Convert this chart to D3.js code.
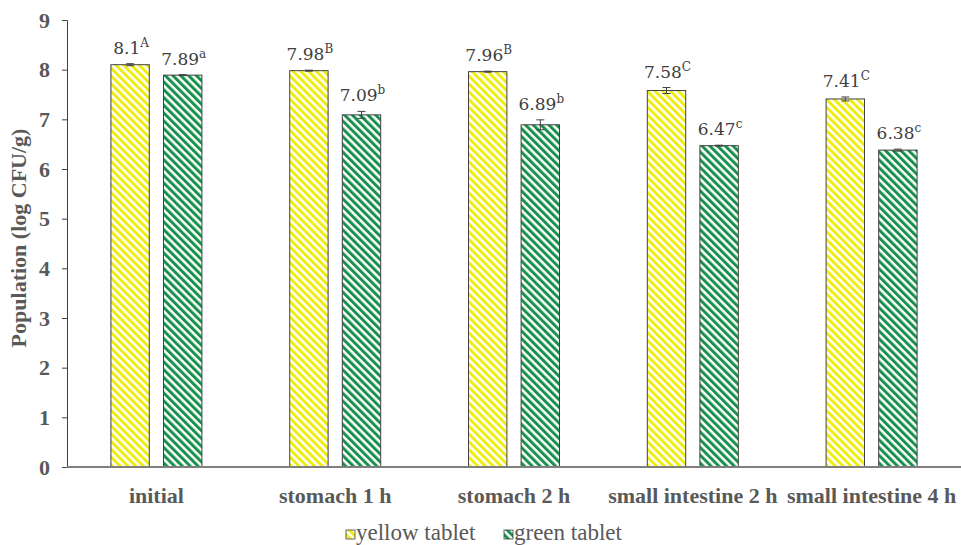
<!DOCTYPE html>
<html>
<head>
<meta charset="utf-8">
<script src="https://cdn.jsdelivr.net/npm/d3@7"></script>
<style>
  body { margin: 0; background: #fff; }
  #visualization { width: 961px; height: 545px; }
</style>
</head>
<body>
<div id="visualization"></div>
<script>
const categories = ['initial', 'stomach 1 h', 'stomach 2 h', 'small intestine 2 h', 'small intestine 4 h']
const seriesNames = ['yellow tablet', 'green tablet']
const yellowValues = [8.1, 7.98, 7.96, 7.58, 7.41]
const greenValues = [7.89, 7.09, 6.89, 6.47, 6.38]
const yellowErrors = [0.02, 0.01, 0.01, 0.06, 0.04]
const greenErrors = [0.01, 0.07, 0.10, 0.01, 0.02]
const yellowLetters = ['A', 'B', 'B', 'C', 'C']
const greenLetters = ['a', 'b', 'b', 'c', 'c']
const yTicks = [0, 1, 2, 3, 4, 5, 6, 7, 8, 9]

const w = 961
const h = 545
const plotLeft = 67, plotRight = 961, plotTop = 20, plotBottom = 467

const stripeColors = ['#f0ec10', '#17914b']
const textGray = '#595959'
const serif = '"Liberation Serif", "Times New Roman", Times, serif'

// rows built from the arrays above
const rows = categories.map((c, i) => ({
  cat: c,
  bars: [
    { s: 0, v: yellowValues[i], e: yellowErrors[i], l: yellowLetters[i] },
    { s: 1, v: greenValues[i], e: greenErrors[i], l: greenLetters[i] }
  ]
}))

const xScale = d3.scaleBand().domain(categories).range([plotLeft, plotRight]).paddingInner(0).paddingOuter(0)
const x1 = d3.scaleBand().domain([0, 1]).range([0, 91]).paddingInner(0.27)
const yScale = d3.scaleLinear().domain([0, 9]).range([plotBottom, plotTop])

const svg = d3.select('#visualization').append('svg')
  .attr('width', w).attr('height', h)

// hatch patterns
const defs = svg.append('defs')
stripeColors.forEach((col, i) => {
  const p = defs.append('pattern')
    .attr('id', 'hatch' + i)
    .attr('patternUnits', 'userSpaceOnUse')
    .attr('width', 5.5).attr('height', 5.5)
    .attr('patternTransform', 'rotate(-45)')
  p.append('rect').attr('width', 5.5).attr('height', 5.5).attr('fill', '#fff')
  p.append('rect').attr('width', 3).attr('height', 5.5).attr('fill', col)
})

// y axis
const yaxis = d3.axisLeft(yScale).tickValues(yTicks).tickSize(5).tickPadding(12)
const gy = svg.append('g')
  .attr('transform', `translate(${plotLeft},0)`)
  .call(yaxis)
gy.select('.domain').attr('stroke', '#404040')
gy.selectAll('.tick line').attr('stroke', '#404040')
gy.selectAll('.tick text')
  .attr('fill', textGray)
  .style('font-family', serif)
  .style('font-weight', 'bold')
  .style('font-size', '22px')

// bars
const groups = svg.append('g').selectAll('g')
  .data(rows).enter().append('g')
  .attr('transform', d => `translate(${xScale(d.cat) + (xScale.bandwidth() - 91) / 2},0)`)

groups.selectAll('rect')
  .data(d => d.bars).enter().append('rect')
  .attr('x', d => x1(d.s))
  .attr('y', d => yScale(d.v))
  .attr('width', x1.bandwidth())
  .attr('height', d => yScale(0) - yScale(d.v))
  .attr('fill', d => `url(#hatch${d.s})`)
  .attr('stroke', '#404040')
  .attr('stroke-width', 1)

// error bars
const err = groups.selectAll('.err')
  .data(d => d.bars).enter().append('g').attr('class', 'err')
  .attr('stroke', '#404040').attr('stroke-width', 1)
err.append('line')
  .attr('x1', d => x1(d.s) + x1.bandwidth() / 2)
  .attr('x2', d => x1(d.s) + x1.bandwidth() / 2)
  .attr('y1', d => yScale(d.v + d.e))
  .attr('y2', d => yScale(d.v - d.e))
err.selectAll('.cap')
  .data(d => [d.v + d.e, d.v - d.e].map(t => ({ s: d.s, t }))).enter().append('line')
  .attr('x1', d => x1(d.s) + x1.bandwidth() / 2 - 4)
  .attr('x2', d => x1(d.s) + x1.bandwidth() / 2 + 4)
  .attr('y1', d => yScale(d.t))
  .attr('y2', d => yScale(d.t))

// value labels
const lab = groups.selectAll('.val')
  .data(d => d.bars).enter().append('text').attr('class', 'val')
  .attr('x', d => x1(d.s) + x1.bandwidth() / 2 + 1)
  .attr('y', d => yScale(d.v + d.e) - 10)
  .attr('text-anchor', 'middle')
  .attr('fill', '#404040')
  .style('font-family', '"DejaVu Serif", serif')
  .style('font-size', '17px')
lab.append('tspan').text(d => d.v)
lab.append('tspan').text(d => d.l)
  .attr('dy', -7)
  .style('font-size', '12px')

// x axis line
svg.append('line')
  .attr('x1', plotLeft).attr('x2', plotRight)
  .attr('y1', plotBottom).attr('y2', plotBottom)
  .attr('stroke', '#7f7f7f').attr('stroke-width', 2)

// x labels
svg.append('g').selectAll('text')
  .data(categories).enter().append('text')
  .attr('x', d => xScale(d) + xScale.bandwidth() / 2)
  .attr('y', 503)
  .attr('text-anchor', 'middle')
  .attr('fill', textGray)
  .style('font-family', serif)
  .style('font-weight', 'bold')
  .style('font-size', '22px')
  .text(d => d)

// y title
svg.append('text')
  .text('Population (log CFU/g)')
  .attr('transform', `translate(26,238) rotate(-90)`)
  .attr('text-anchor', 'middle')
  .attr('fill', textGray)
  .style('font-family', serif)
  .style('font-weight', 'bold')
  .style('font-size', '22px')

// legend
const legendX = [346, 504]
const leg = svg.append('g').selectAll('g')
  .data(seriesNames).enter().append('g')
  .attr('transform', (d, i) => `translate(${legendX[i]},0)`)
leg.append('rect')
  .attr('x', 0).attr('y', 530).attr('width', 9).attr('height', 9)
  .attr('fill', (d, i) => `url(#hatch${i})`)
  .attr('stroke', '#404040').attr('stroke-width', 0.8)
leg.append('text')
  .attr('x', 10).attr('y', 540)
  .attr('fill', textGray)
  .style('font-family', serif)
  .style('font-size', '23px')
  .text(d => d)
</script>
</body>
</html>
